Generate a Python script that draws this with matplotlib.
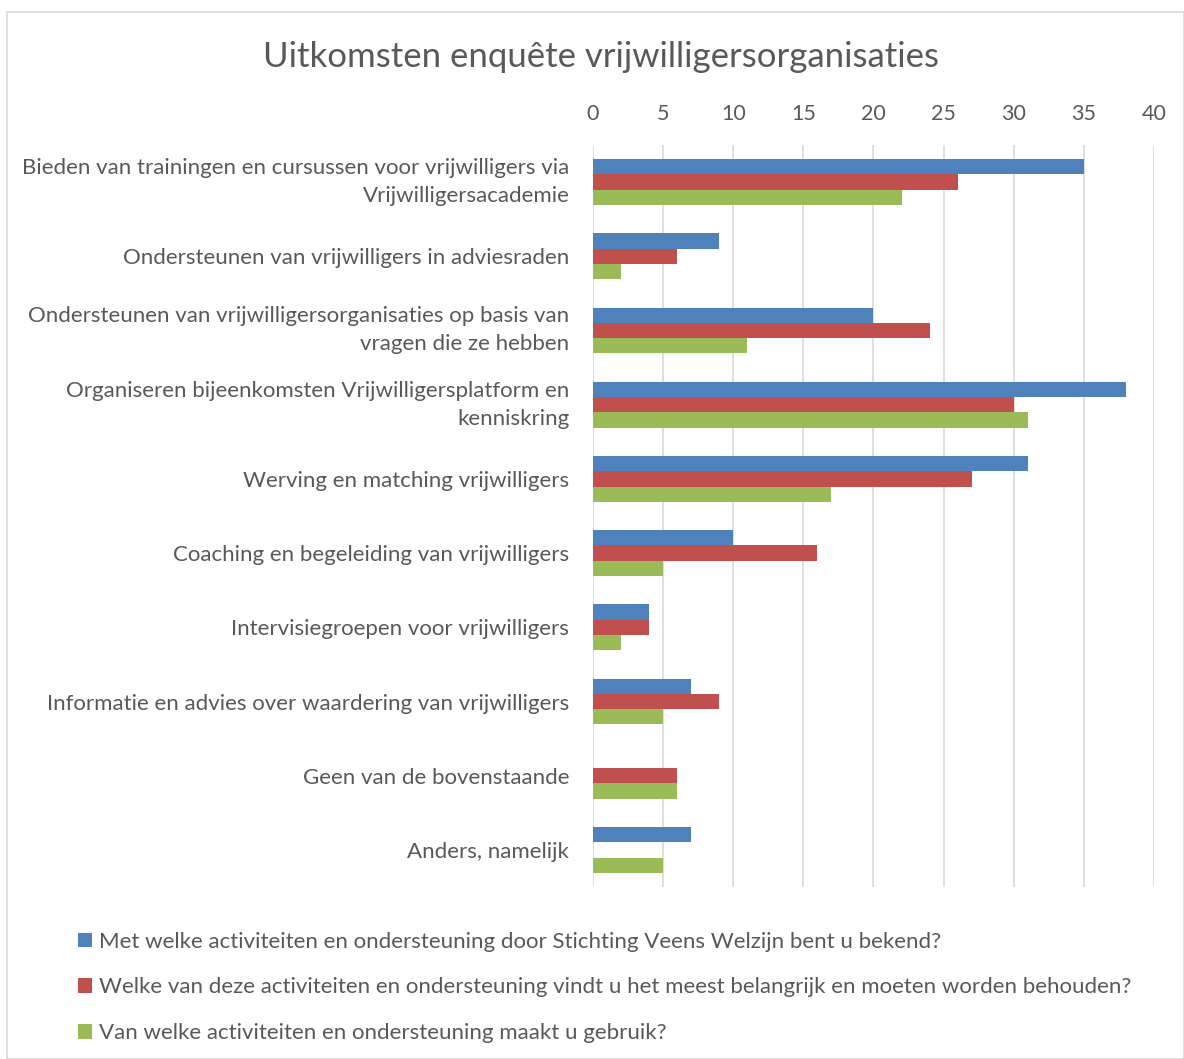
import numpy as np
import matplotlib.pyplot as plt
from matplotlib.patches import Patch, Rectangle

plt.rcParams['font.family'] = ['Lato', 'DejaVu Sans']

categories = [
    "Bieden van trainingen en cursussen voor vrijwilligers via\nVrijwilligersacademie",
    "Ondersteunen van vrijwilligers in adviesraden",
    "Ondersteunen van vrijwilligersorganisaties op basis van\nvragen die ze hebben",
    "Organiseren bijeenkomsten Vrijwilligersplatform en\nkenniskring",
    "Werving en matching vrijwilligers",
    "Coaching en begeleiding van vrijwilligers",
    "Intervisiegroepen voor vrijwilligers",
    "Informatie en advies over waardering van vrijwilligers",
    "Geen van de bovenstaande",
    "Anders, namelijk",
]
bekend = [35, 9, 20, 38, 31, 10, 4, 7, 0, 7]
belangrijk = [26, 6, 24, 30, 27, 16, 4, 9, 6, 0]
gebruik = [22, 2, 11, 31, 17, 5, 2, 5, 6, 5]
series_names = [
    "Met welke activiteiten en ondersteuning door Stichting Veens Welzijn bent u bekend?",
    "Welke van deze activiteiten en ondersteuning vindt u het meest belangrijk en moeten worden behouden?",
    "Van welke activiteiten en ondersteuning maakt u gebruik?",
]
colors = ["#4F81BD", "#C0504D", "#9BBB59"]
grey = "#595959"

fig = plt.figure(figsize=(11.84, 10.59), dpi=100)
ax = fig.add_axes([0.5008, 0.1624, 0.4739, 0.7007])

# light border round the chart
fig.patches.append(Rectangle((7/1184, 0), 1 - 7/1184, 1 - 12/1059, transform=fig.transFigure,
                             fill=False, edgecolor="#d9d9d9", linewidth=1.2))

y = np.arange(len(categories))
h = 0.205
for i, vals in enumerate([bekend, belangrijk, gebruik]):
    ax.barh(y + (i - 1) * h, vals, height=h, color=colors[i], zorder=2)

ax.set_ylim(len(categories) - 0.5, -0.5)
ax.set_xlim(0, 40)
ax.set_xticks(range(0, 41, 5))
ax.xaxis.tick_top()
ax.tick_params(axis='x', length=0, labelsize=15.5, labelcolor=grey, pad=15)
ax.set_yticks(y)
ax.set_yticklabels(categories, fontsize=16, color=grey, linespacing=1.5)
ax.tick_params(axis='y', length=0, pad=17)
for lbl in ax.get_yticklabels():
    lbl.set_multialignment('right')
    if "\n" in lbl.get_text():
        lbl.set_va('center')
ax.grid(axis='x', color="#d9d9d9", linewidth=1.2, zorder=0)
for s in ax.spines.values():
    s.set_visible(False)

fig.text(0.508, 0.946, "Uitkomsten enquête vrijwilligersorganisaties", ha='center', va='center',
         fontsize=25, color=grey)

handles = [Patch(facecolor=c) for c in colors]
fig.legend(handles, series_names, loc='upper left', bbox_to_anchor=(0.049, 0.139),
           frameon=False, fontsize=16, labelcolor=grey, handlelength=0.65, handleheight=0.65,
           handletextpad=0.3, labelspacing=1.15)

fig.savefig("out.png", dpi=100)
